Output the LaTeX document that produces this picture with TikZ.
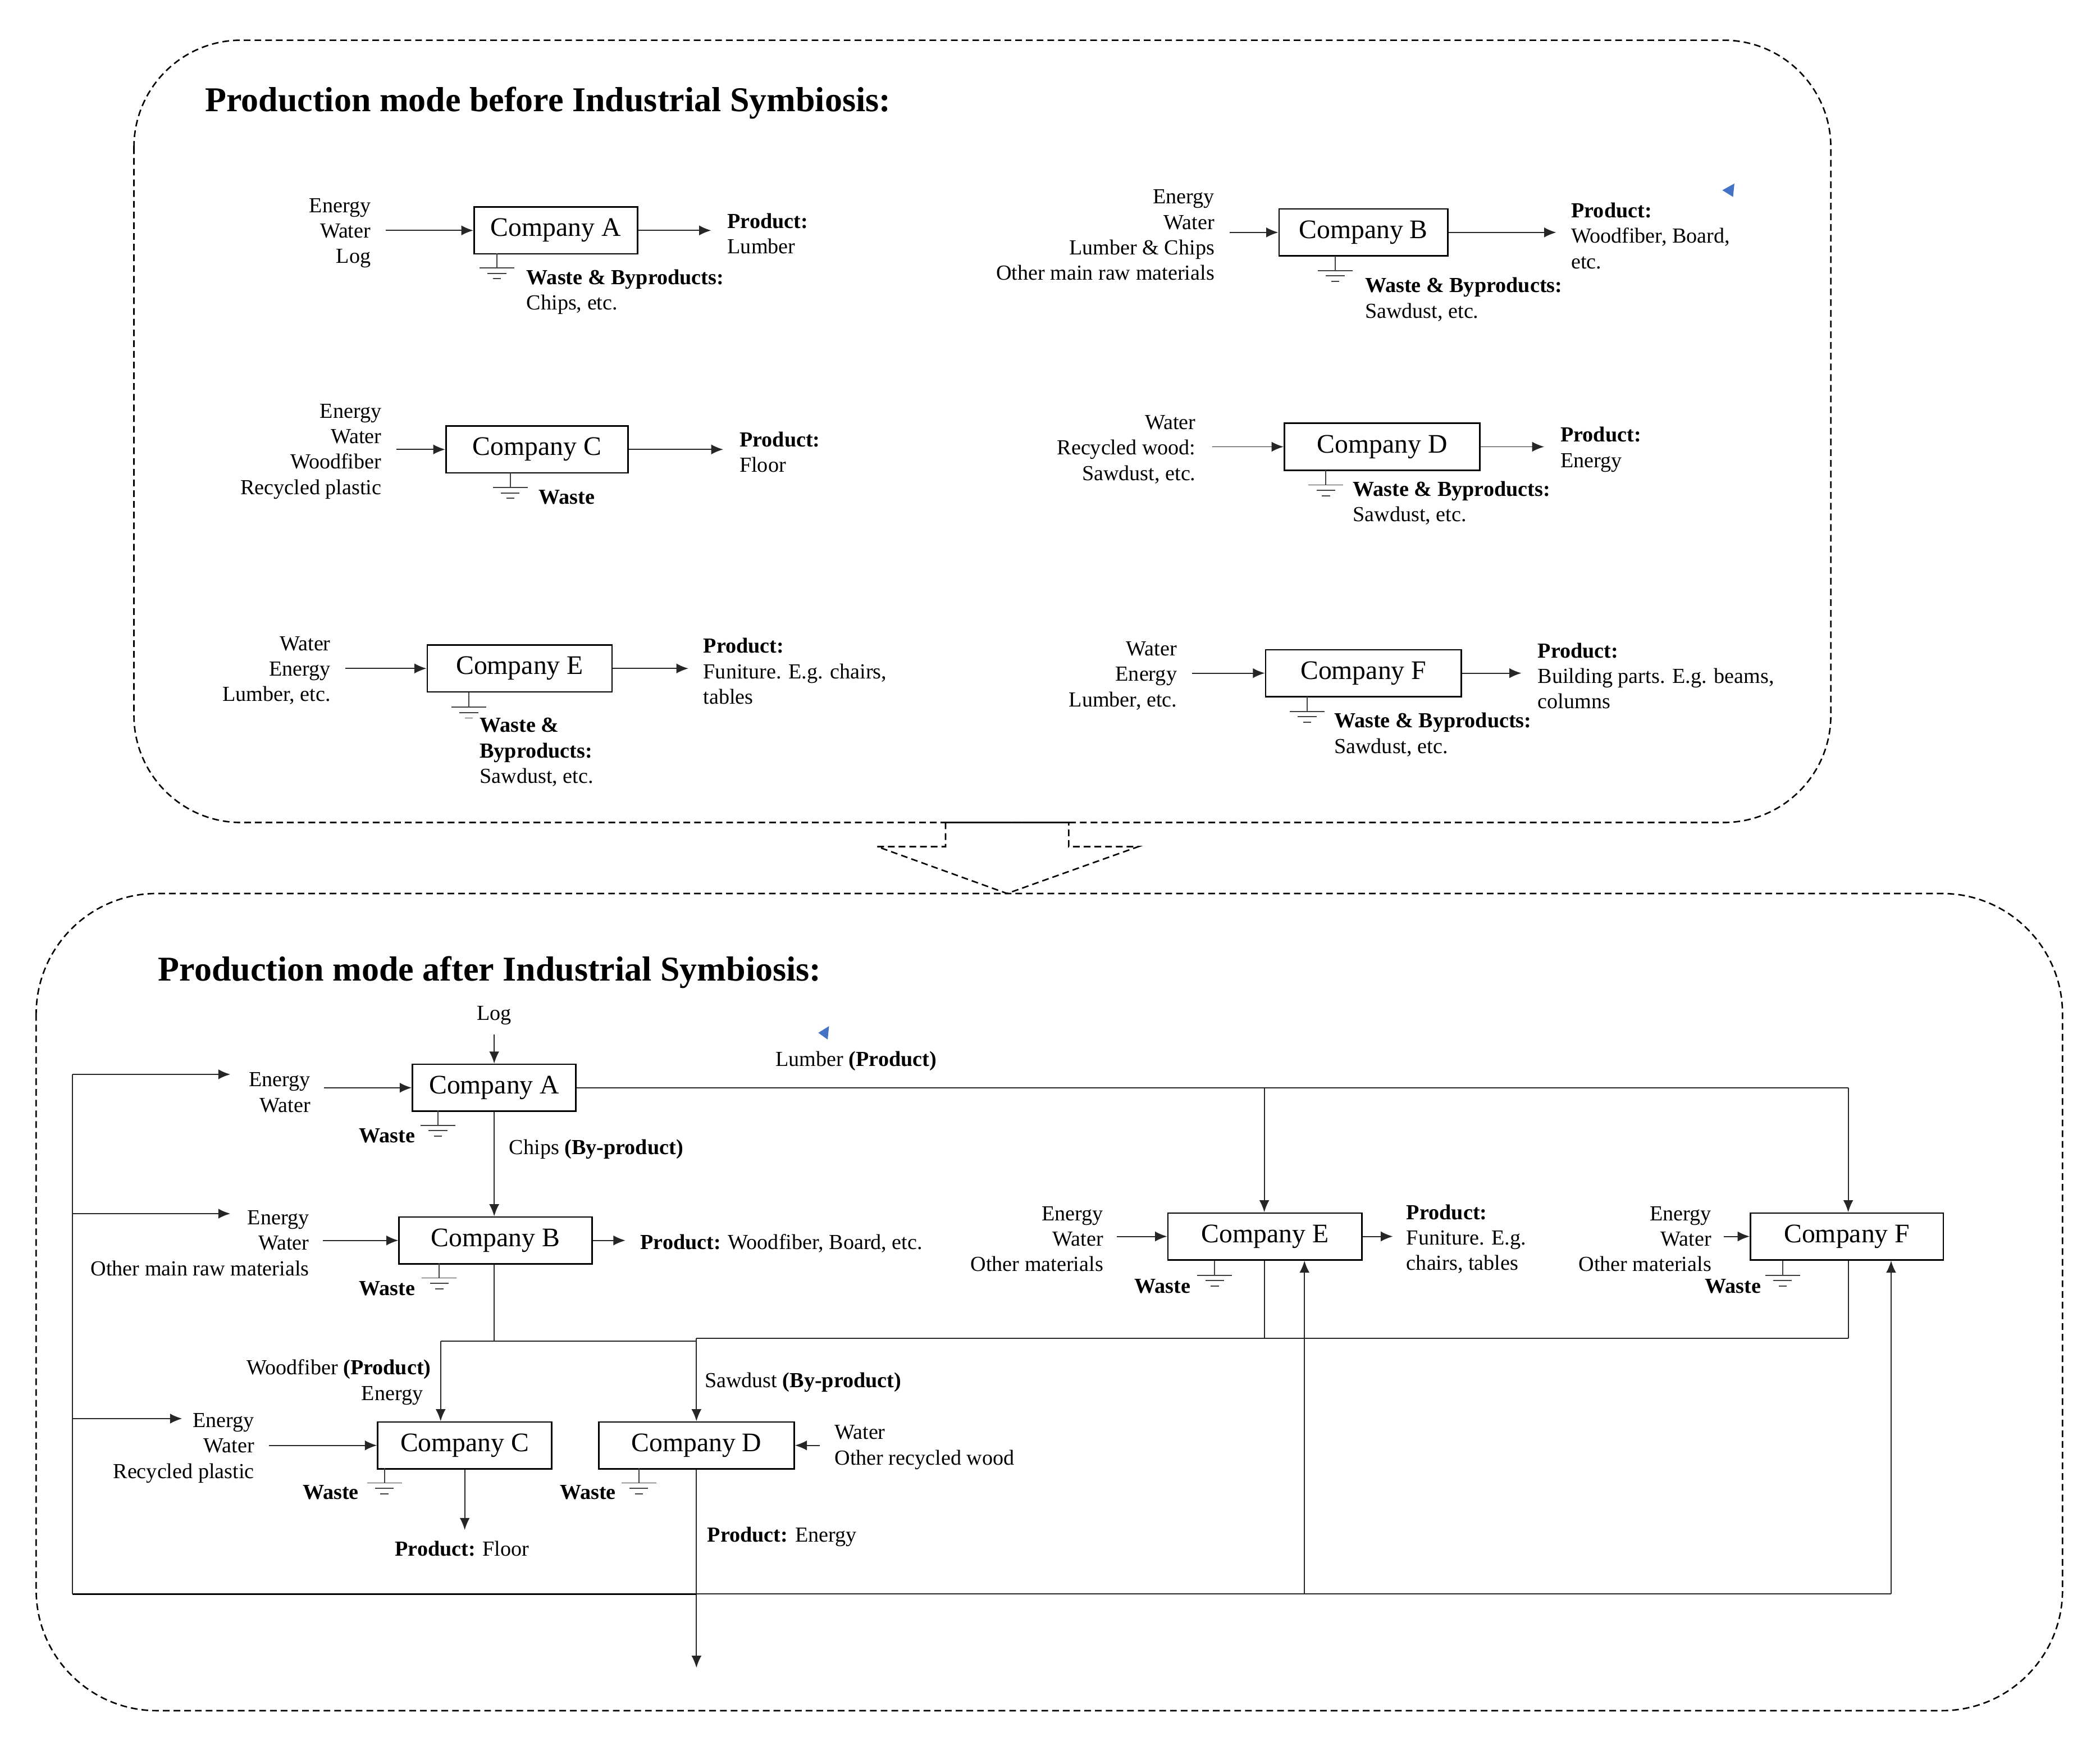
\documentclass[tikz,border=0pt]{standalone}
\usepackage{fontspec}
\setmainfont{Liberation Serif}
\usetikzlibrary{arrows.meta}
\newcommand\bodyf{\fontsize{16}{19}\selectfont}
\newcommand\compf{\fontsize{20}{24}\selectfont}
\newcommand\titlef{\fontsize{26}{31}\selectfont\bfseries}
\definecolor{markblue}{RGB}{68,114,196}
\tikzset{
  cobox/.style={draw, line width=1.1pt, minimum height=35pt, inner sep=0pt, font=\compf, minimum width=#1},
  txt/.style={font=\bodyf, inner sep=0pt, yshift=-2pt},
  ttl/.style={font=\titlef, inner sep=0pt, anchor=west, yshift=-2pt},
  arr/.style={-{Latex[length=9pt,width=7.5pt]}, line width=0.8pt, draw=black!85},
  ln/.style={line width=0.8pt, draw=black!85},
  frm/.style={line width=1.1pt, dash pattern=on 5pt off 3pt},
  gndl/.style={line width=0.8pt, draw=black!75},
  gnd/.pic={\draw[gndl] (0,0) -- (0,11) (-13,11) -- (13,11) (-7,15) -- (7,15) (-3,19) -- (3,19);}
}
\begin{document}
\begin{tikzpicture}[x=1pt,y=-1pt]
\useasboundingbox (0,0) rectangle (1568,1299.3);

% ================= TOP SECTION =================
\draw[frm, rounded corners=80pt] (100,30) rectangle (1367,614);
\node[ttl] (ttop) at (153,75) {Production mode before Industrial Symbiosis:};

% Company A
\node[cobox=122] (tA) at (415,172) {Company A};
\node[txt, anchor=east, align=right] (tAin) at (277,172) {Energy\\Water\\Log};
\node[txt, anchor=west, align=left] (tAout) at (543,172.5) {\textbf{Product:}\\Lumber};
\draw[arr, shorten <=11pt] (tAin.east |- tA.west) -- (tA.west);
\draw[arr, shorten >=12pt] (tA.east) -- (tA.east -| tAout.west);
\pic at (371,189) {gnd};
\node[txt, anchor=west, align=left] (tAw) at (393,216) {\textbf{Waste \& Byproducts:}\\Chips, etc.};

% Company B
\node[cobox=126] (tB) at (1018,173.5) {Company B};
\node[txt, anchor=east, align=right] (tBin) at (907,173.5) {Energy\\Water\\Lumber \& Chips\\Other main raw materials};
\node[txt, anchor=west, align=left] (tBout) at (1173,174) {\textbf{Product:}\\Woodfiber, Board,\\etc.};
\draw[arr, shorten <=11pt] (tBin.east |- tB.west) -- (tB.west);
\draw[arr, shorten >=11pt] (tB.east) -- (tB.east -| tBout.west);
\pic at (997,191) {gnd};
\node[txt, anchor=west, align=left] (tBw) at (1019,221.5) {\textbf{Waste \& Byproducts:}\\Sawdust, etc.};
\fill[markblue] (1286,142) -- (1295,137) -- (1294,147) -- cycle;

% Company C
\node[cobox=136] (tC) at (401,335.5) {Company C};
\node[txt, anchor=east, align=right] (tCin) at (285,335) {Energy\\Water\\Woodfiber\\Recycled plastic};
\node[txt, anchor=west, align=left] (tCout) at (552,335.5) {\textbf{Product:}\\Floor};
\draw[arr, shorten <=11pt] (tCin.east |- tC.west) -- (tC.west);
\draw[arr, shorten >=12pt] (tC.east) -- (tC.east -| tCout.west);
\pic at (381,353) {gnd};
\node[txt, anchor=west] (tCw) at (402,369) {\textbf{Waste}};

% Company D
\node[cobox=146] (tD) at (1032,333.5) {Company D};
\node[txt, anchor=east, align=right] (tDin) at (893,333.5) {Water\\Recycled wood:\\Sawdust, etc.};
\node[txt, anchor=west, align=left] (tDout) at (1165,333.5) {\textbf{Product:}\\Energy};
\draw[arr, shorten <=12pt] (tDin.east |- tD.west) -- (tD.west);
\draw[arr, shorten >=12pt] (tD.east) -- (tD.east -| tDout.west);
\pic at (990,351) {gnd};
\node[txt, anchor=west, align=left] (tDw) at (1010,373.5) {\textbf{Waste \& Byproducts:}\\Sawdust, etc.};

% Company E
\node[cobox=138] (tE) at (388,499) {Company E};
\node[txt, anchor=east, align=right] (tEin) at (247,498.5) {Water\\Energy\\Lumber, etc.};
\node[txt, anchor=west, align=left] (tEout) at (525,499) {\textbf{Product:}\\Funiture. E.g. chairs,\\tables};
\draw[arr, shorten <=11pt] (tEin.east |- tE.west) -- (tE.west);
\draw[arr, shorten >=11pt] (tE.east) -- (tE.east -| tEout.west);
\pic at (350,517) {gnd};
\node[txt, anchor=west, align=left] (tEw) at (358,559.5) {\textbf{Waste \&}\\\textbf{Byproducts:}\\Sawdust, etc.};

% Company F
\node[cobox=146] (tF) at (1018,502.5) {Company F};
\node[txt, anchor=east, align=right] (tFin) at (879,502.5) {Water\\Energy\\Lumber, etc.};
\node[txt, anchor=west, align=left] (tFout) at (1148,502.5) {\textbf{Product:}\\Building parts. E.g. beams,\\columns};
\draw[arr, shorten <=11pt] (tFin.east |- tF.west) -- (tF.west);
\draw[arr, shorten >=12pt] (tF.east) -- (tF.east -| tFout.west);
\pic at (976,520) {gnd};
\node[txt, anchor=west, align=left] (tFw) at (996,546.5) {\textbf{Waste \& Byproducts:}\\Sawdust, etc.};

% ================= TRANSITION ARROW =================
\draw[frm] (706,614) -- (706,632) -- (655,632) -- (752,667) -- (850,632) -- (798,632) -- (798,614) -- cycle;

% ================= BOTTOM SECTION =================
\draw[frm, rounded corners=90pt] (27,667) rectangle (1540,1277);
\node[ttl] (tbot) at (118,724) {Production mode after Industrial Symbiosis:};

% junction coordinates
\coordinate (L1) at (54,802);
\coordinate (L2) at (54,906);
\coordinate (L3) at (54,1059);
\coordinate (L0) at (54,1190);
\coordinate (Lm) at (520,1190);
\coordinate (LE) at (974,1190);
\coordinate (LF) at (1412,1190);
\coordinate (fa1) at (172,802);
\coordinate (fa2) at (172,906);
\coordinate (fa3) at (136,1059);
\coordinate (jB) at (369,1001);
\coordinate (jC) at (329,1001);
\coordinate (jD) at (520,1001);
\coordinate (jD2) at (520,999);
\coordinate (jE) at (944,999);
\coordinate (jF) at (1380,999);
\coordinate (dEnd) at (520,1245);

% Company A
\node[cobox=122] (bA) at (369,812) {Company A};
\node[txt] (log) at (369,756) {Log};
\draw[arr, shorten <=7pt] (log) -- (bA.north);
\node[txt, anchor=east, align=right] (bAin) at (232,813.5) {Energy\\Water};
\draw[arr, shorten <=10pt] (bAin.east |- bA.west) -- (bA.west);
\pic at (327,829) {gnd};
\node[txt, anchor=east] (bAw) at (310,846) {\textbf{Waste}};
\node[txt, anchor=west] (chips) at (380,856) {Chips \textbf{(By-product)}};
\node[txt, anchor=west] (lumb) at (579,790) {Lumber \textbf{(Product)}};
\fill[markblue] (611,771) -- (619,766) -- (618,776) -- cycle;

% Company B
\node[cobox=144] (bB) at (370,926) {Company B};
\node[txt, anchor=east, align=right] (bBin) at (231,926) {Energy\\Water\\Other main raw materials};
\draw[arr, shorten <=10pt] (bBin.east |- bB.west) -- (bB.west);
\node[txt, anchor=west] (bBout) at (478,926) {\textbf{Product:} Woodfiber, Board, etc.};
\draw[arr, shorten >=11pt] (bB.east) -- (bB.east -| bBout.west);
\pic at (328,943) {gnd};
\node[txt, anchor=east] (bBw) at (310,960) {\textbf{Waste}};
\draw[arr] (bA.south -| jB) -- (bB.north -| jB);

% Company E
\node[cobox=145] (bE) at (944.5,923) {Company E};
\node[txt, anchor=east, align=right] (bEin) at (824,923) {Energy\\Water\\Other materials};
\draw[arr, shorten <=10pt] (bEin.east |- bE.west) -- (bE.west);
\node[txt, anchor=west, align=left] (bEout) at (1050,923) {\textbf{Product:}\\Funiture. E.g.\\chairs, tables};
\draw[arr, shorten >=10pt] (bE.east) -- (bE.east -| bEout.west);
\pic at (907,941) {gnd};
\node[txt, anchor=east] (bEw) at (889,958) {\textbf{Waste}};

% Company F
\node[cobox=144] (bF) at (1379,923) {Company F};
\node[txt, anchor=east, align=right] (bFin) at (1278,923) {Energy\\Water\\Other materials};
\draw[arr, shorten <=9pt] (bFin.east |- bF.west) -- (bF.west);
\pic at (1331,941) {gnd};
\node[txt, anchor=east] (bFw) at (1315,958) {\textbf{Waste}};

% Lumber distribution
\draw[ln] (bA.east) -- (bA.east -| jF);
\draw[arr] (bA.east -| jF) -- (bF.north -| jF);
\draw[arr] (bA.east -| jE) -- (bE.north -| jE);

% Company C
\node[cobox=130] (bC) at (347,1079) {Company C};
\node[txt, anchor=east, align=right] (bCin) at (190,1079) {Energy\\Water\\Recycled plastic};
\draw[arr, shorten <=11pt] (bCin.east |- bC.west) -- (bC.west);
\node[txt, anchor=east] (wfp) at (322,1020) {Woodfiber \textbf{(Product)}};
\node[txt, anchor=east] (wfe) at (316,1040) {Energy};
\pic at (287,1096) {gnd};
\node[txt, anchor=east] (bCw) at (268,1112) {\textbf{Waste}};
\node[txt] (bCprod) at (345,1154) {\textbf{Product:} Floor};
\draw[arr, shorten >=8pt] (bC.south) -- (bC.south |- bCprod.north);

% Company D
\node[cobox=146] (bD) at (520,1079) {Company D};
\node[txt, anchor=west, align=left] (bDin) at (623,1078.5) {Water\\Other recycled wood};
\draw[arr, shorten <=11pt] (bDin.west |- bD.east) -- (bD.east);
\pic at (477,1096) {gnd};
\node[txt, anchor=east] (bDw) at (460,1112) {\textbf{Waste}};
\node[txt, anchor=west] (saw) at (526,1030) {Sawdust \textbf{(By-product)}};
\node[txt, anchor=west] (bDprod) at (528,1145) {\textbf{Product:} Energy};
\draw[arr] (bD.south) -- (dEnd);

% Woodfiber and sawdust routing
\draw[ln] (bB.south -| jB) -- (jB);
\draw[ln] (jC) -- (jD);
\draw[arr] (jC) -- (jC |- bC.north);
\draw[ln] (bE.south -| jE) -- (jE);
\draw[ln] (bF.south -| jF) -- (jF);
\draw[ln] (jD2) -- (jF);
\draw[arr] (jD2) -- (jD2 |- bD.north);

% Energy feedback loop
\draw[ln] (L1) -- (L0);
\draw[line width=1.6pt] (L0) -- (Lm);
\draw[ln] (Lm) -- (LF);
\draw[arr] (LE) -- (LE |- bE.south);
\draw[arr] (LF) -- (LF |- bF.south);
\draw[arr] (L1) -- (fa1);
\draw[arr] (L2) -- (fa2);
\draw[arr] (L3) -- (fa3);
\end{tikzpicture}
\end{document}
